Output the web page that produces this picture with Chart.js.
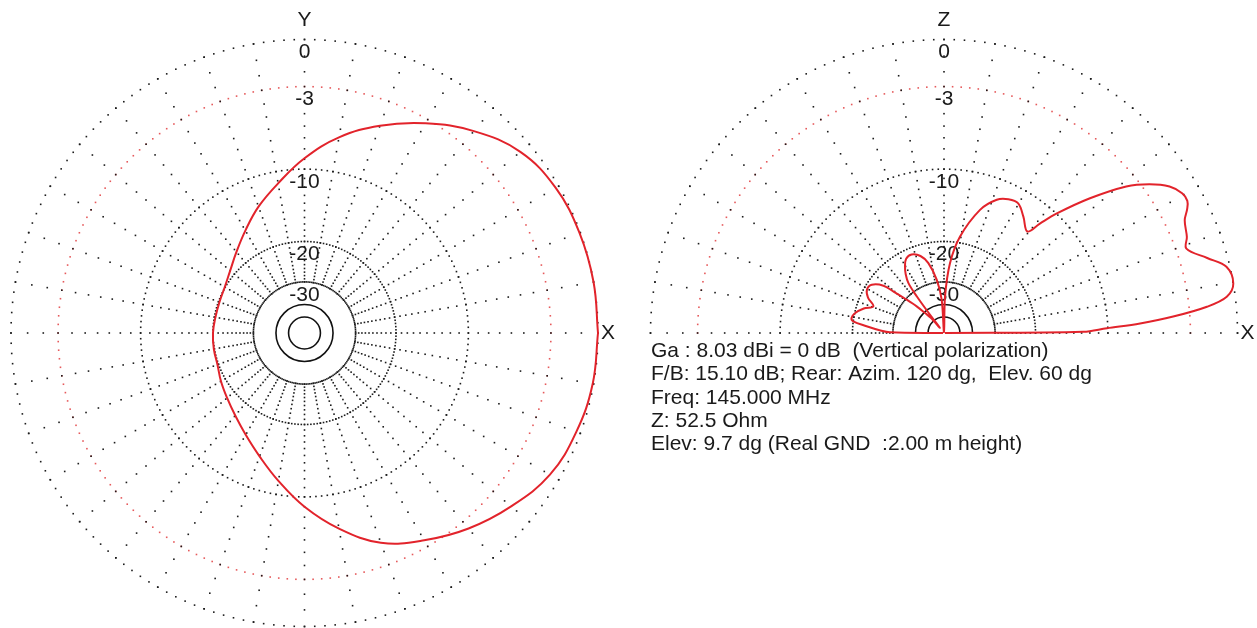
<!DOCTYPE html>
<html>
<head>
<meta charset="utf-8">
<title>Radiation pattern 145 MHz</title>
<script src="https://cdn.jsdelivr.net/npm/chart.js@4.4.1/dist/chart.umd.min.js"></script>
<style>
  html, body { margin: 0; padding: 0; background: #ffffff; }
  #wrap { position: relative; width: 1257px; height: 628px; overflow: hidden; background: #ffffff; }
  #wrap canvas { position: absolute; top: 0; }
</style>
</head>
<body>
<div id="wrap">
  <canvas id="azim" width="628" height="628" style="left:0px"></canvas>
  <canvas id="elev" width="629" height="628" style="left:628px"></canvas>
</div>
<script>
// Horizontal (azimuth) pattern: angle in degrees from +X, gain in dB relative to max
const azimuthAngles = [0, 10, 20, 30, 40, 50, 60, 70, 80, 90, 100, 110, 120, 130, 140, 150, 160, 170, 180,
                       190, 200, 210, 220, 230, 240, 250, 260, 270, 280, 290, 300, 310, 320, 330, 340, 350, 360];
const azimuthGain   = [0, 0, -0.05, -0.2, -0.7, -1.85, -3.3, -4.9, -6.7, -8.9, -11.3, -13.4, -15.6, -17.5, -19.0, -19.9, -20.2, -20.2, -20.0,
                       -19.9, -19.8, -19.1, -18.3, -17.2, -15.7, -13.8, -11.5, -9.0, -6.7, -4.7, -3.5, -2.4, -1.45, -0.6, -0.25, -0.05, 0];

// Vertical (elevation) pattern: angle in degrees above the +X horizon, gain in dB
const elevationAngles = [0, 0.5, 1.7, 2.8, 4.1, 5.7, 7.3, 9.7, 13.2, 15.9, 19.2, 21.6, 25.1, 27, 28.5, 30.4, 33, 35.9, 38.8, 42.7,
                         46.7, 48.8, 50.6, 55.7, 60.2, 64.3, 68.4, 73.7, 80.6, 85.1, 88.4, 90, 94, 97.8, 102.6, 107,
                         112.4, 117, 120.3, 123, 125.5, 126.6, 127.5, 128.5, 131, 133.5, 135.7, 138.2, 140.6, 142,
                         146.3, 150.7, 155, 159.3, 163, 167.3, 170.8, 172.7, 175, 177.5, 179.3, 180];
const elevationGain   = [-99, -12.8, -10.1, -6.9, -4.2, -1.8, -0.5, 0, -0.2, -1.2, -2.3, -2.0, -1.7, -1.25, -1.0, -1.05, -1.5, -2.5, -3.9, -6.7,
                         -10.0, -12.1, -13.8, -12.6, -11.6, -11.7, -12.3, -14.2, -18.9, -24.6, -35.9, -99, -37.3, -29.1, -24.2, -22.2,
                         -21.3, -21.6, -22.9, -24.5, -26.9, -32, -45, -65, -46, -40.6, -35, -30.4, -25.8, -23,
                         -20.9, -20.6, -21.5, -23.3, -21.5, -20.1, -19.6, -20.0, -22.8, -26, -29, -99];

// Grid levels (dB) and their labels
const ringLevels = [0, -3, -10, -20, -30];
const ringLabels = ['0', '-3', '-10', '-20', '-30'];
const solidRings = [-40, -50];

const infoLines = [
  'Ga : 8.03 dBi = 0 dB  (Vertical polarization)',
  'F/B: 15.10 dB; Rear: Azim. 120 dg,  Elev. 60 dg',
  'Freq: 145.000 MHz',
  'Z: 52.5 Ohm',
  'Elev: 9.7 dg (Real GND  :2.00 m height)'
];

// ARRL log scale: radius shrinks by 0.89 for every 2 dB
function dbToRadius(db) { return Math.pow(0.89, -db / 2); }

const FONT = '21px "Liberation Sans", Arial, sans-serif';
const R0 = 293.5;

const polarGrid = {
  id: 'polarGrid',
  beforeDatasetsDraw(chart, args, opts) {
    const { ctx, scales: { x, y } } = chart;
    const ox = x.getPixelForValue(0), oy = y.getPixelForValue(0);
    const R = x.getPixelForValue(1) - ox;
    const maxA = opts.half ? 180 : 359.9;
    const dot = (px, py) => ctx.fillRect(px - 0.8, py - 0.8, 1.6, 1.6);
    ctx.save();

    // dotted rings, one dot every 2 degrees
    ringLevels.forEach(db => {
      const r = R * dbToRadius(db);
      ctx.fillStyle = db === -3 ? '#e65a5c' : '#1c1c1c';
      for (let a = 0; a <= maxA; a += 2) {
        const t = a * Math.PI / 180;
        dot(ox + r * Math.cos(t), oy - r * Math.sin(t));
      }
    });

    // radial spokes every 10 degrees, a dot at every whole dB from 0 to -30
    ctx.fillStyle = '#1c1c1c';
    for (let a = 0; a <= maxA; a += 10) {
      const t = a * Math.PI / 180;
      for (let db = 0; db >= -30; db--) {
        const r = R * dbToRadius(db);
        dot(ox + r * Math.cos(t), oy - r * Math.sin(t));
      }
    }

    // solid inner rings
    ctx.strokeStyle = '#111111';
    ctx.lineWidth = 1.6;
    solidRings.forEach(db => {
      const r = R * dbToRadius(db);
      ctx.beginPath();
      if (opts.half) ctx.arc(ox, oy, r, Math.PI, 2 * Math.PI);
      else ctx.arc(ox, oy, r, 0, 2 * Math.PI);
      ctx.stroke();
    });

    // level labels along the upward axis
    ctx.font = FONT;
    ctx.fillStyle = '#1a1a1a';
    ctx.textAlign = 'center';
    ctx.textBaseline = 'middle';
    ringLevels.forEach((db, i) => {
      const r = R * dbToRadius(db);
      ctx.fillText(ringLabels[i], ox, oy - r + 13);
    });

    // axis names
    ctx.fillText(opts.upName, ox, oy - R - 19);
    ctx.textAlign = 'left';
    ctx.fillText('X', ox + R + 3, oy);

    // info block
    if (opts.info) {
      ctx.textBaseline = 'alphabetic';
      opts.info.forEach((line, i) => ctx.fillText(line, opts.infoX, opts.infoY + i * 23.3));
    }
    ctx.restore();
  }
};

function makeChart(id, angles, gains, cx, cy, W, H, tension, gridOpts) {
  const pts = angles.map((a, i) => {
    const r = dbToRadius(gains[i]);
    const t = a * Math.PI / 180;
    return { x: r * Math.cos(t), y: r * Math.sin(t) };
  });
  return new Chart(document.getElementById(id), {
    type: 'scatter',
    data: {
      datasets: [{
        data: pts,
        showLine: true,
        borderColor: '#e2232b',
        borderWidth: 2,
        pointRadius: 0,
        tension: tension,
        fill: false,
        clip: false
      }]
    },
    options: {
      responsive: false,
      animation: false,
      events: [],
      layout: { padding: 0 },
      plugins: {
        legend: { display: false },
        tooltip: { enabled: false },
        polarGrid: gridOpts
      },
      scales: {
        x: { type: 'linear', display: false, min: -cx / R0, max: (W - cx) / R0 },
        y: { type: 'linear', display: false, min: -(H - cy) / R0, max: cy / R0 }
      }
    },
    plugins: [polarGrid]
  });
}

makeChart('azim', azimuthAngles, azimuthGain, 304.5, 333, 628, 628, 0.4,
  { half: false, upName: 'Y' });
makeChart('elev', elevationAngles, elevationGain, 316, 333, 629, 628, 0.35,
  { half: true, upName: 'Z', info: infoLines, infoX: 23, infoY: 357 });
</script>
</body>
</html>
